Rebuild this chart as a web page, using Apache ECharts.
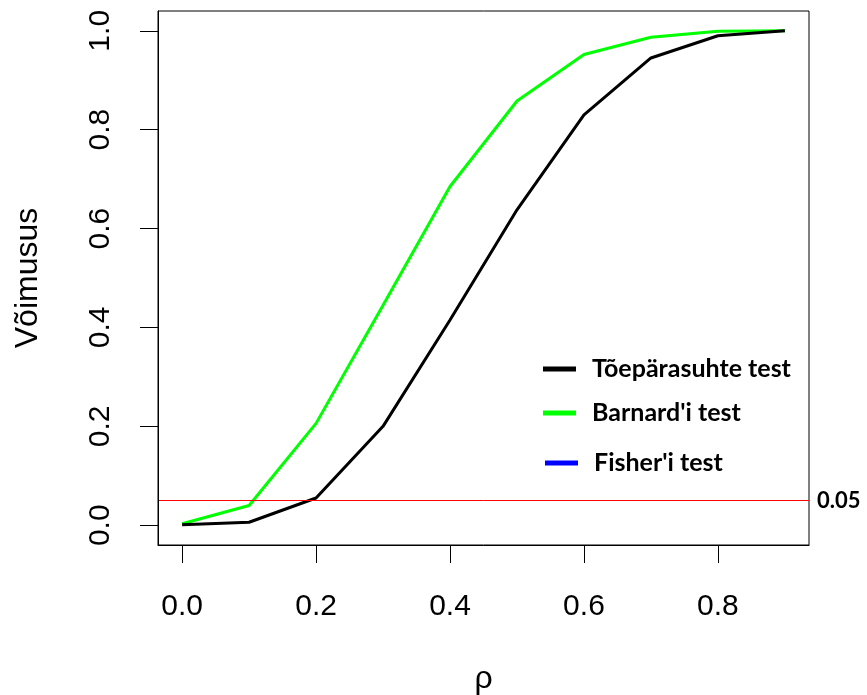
<!DOCTYPE html>
<html>
<head>
<meta charset="utf-8">
<script src="https://cdn.jsdelivr.net/npm/echarts@6/dist/echarts.min.js"></script>
<style>
  html, body { margin: 0; padding: 0; background: #ffffff; }
  #chart { width: 867px; height: 695px; background: #ffffff; }
</style>
</head>
<body>
<div id="chart"></div>
<script>
// Correlation values (rho) at which the tests' power was estimated
const rho = [0.0, 0.1, 0.2, 0.3, 0.4, 0.5, 0.6, 0.7, 0.8, 0.9];
// Estimated power of each test
const powerLikelihoodRatio = [0.001, 0.006, 0.055, 0.200, 0.415, 0.638, 0.830, 0.945, 0.990, 1.000];
const powerBarnard = [0.003, 0.040, 0.206, 0.445, 0.685, 0.858, 0.952, 0.987, 0.999, 1.000];
const powerFisher = [];
// Significance level reference line
const alphaLevel = 0.05;
// Axis ticks
const xTicks = [0.0, 0.2, 0.4, 0.6, 0.8];
const yTicks = [0.0, 0.2, 0.4, 0.6, 0.8, 1.0];

const seriesNames = ['Tõepärasuhte test', "Barnard'i test", "Fisher'i test"];
const seriesColors = ['#000000', '#00ff00', '#0000ff'];

const pairs = (xs, ys) => ys.map((y, i) => [xs[i], y]);

const axisFont = 'Liberation Sans, Arial, sans-serif';
const legendFont = 'Lato, "Open Sans", sans-serif';

function legendAt(name, left, top) {
  return {
    data: [name],
    orient: 'vertical',
    left: left,
    top: top,
    padding: 0,
    icon: 'rect',
    itemWidth: 33,
    itemHeight: 5,
    selectedMode: false,
    textStyle: {
      fontFamily: legendFont,
      fontWeight: 'bold',
      fontSize: 25,
      lineHeight: 26,
      color: '#000',
      padding: [0, 0, 0, 11]
    }
  };
}

const chart = echarts.init(document.getElementById('chart'), null, { renderer: 'canvas' });

chart.setOption({
  animation: false,
  grid: {
    left: 158,
    right: 58,
    top: 11,
    bottom: 150,
    containLabel: false,
    outerBoundsMode: 'none',
    show: true,
    borderColor: '#000',
    borderWidth: 1,
    backgroundColor: 'transparent'
  },
  legend: [
    legendAt(seriesNames[0], 543, 356),
    legendAt(seriesNames[1], 543, 400),
    legendAt(seriesNames[2], 545, 450)
  ],
  xAxis: {
    type: 'value',
    zlevel: 1,
    min: -0.036,
    max: 0.936,
    name: 'ρ',
    nameLocation: 'middle',
    nameGap: 118,
    nameTextStyle: { fontFamily: axisFont, fontSize: 32, color: '#000' },
    axisLine: { show: true, onZero: false, lineStyle: { color: '#000', width: 1 } },
    splitLine: { show: false },
    axisTick: {
      show: true,
      inside: false,
      length: 18,
      customValues: xTicks,
      lineStyle: { color: '#000', width: 1 }
    },
    axisLabel: {
      show: true,
      customValues: xTicks,
      margin: 47,
      fontFamily: axisFont,
      fontSize: 30,
      color: '#000',
      formatter: v => v.toFixed(1)
    }
  },
  yAxis: {
    type: 'value',
    zlevel: 1,
    min: -0.04,
    max: 1.04,
    name: 'Võimusus',
    nameLocation: 'middle',
    nameGap: 114,
    nameRotate: 90,
    nameTextStyle: { fontFamily: axisFont, fontSize: 32, color: '#000' },
    axisLine: { show: true, onZero: false, lineStyle: { color: '#000', width: 1 } },
    splitLine: { show: false },
    axisTick: {
      show: true,
      inside: false,
      length: 18,
      customValues: yTicks,
      lineStyle: { color: '#000', width: 1 }
    },
    axisLabel: {
      show: true,
      customValues: yTicks,
      rotate: 90,
      margin: 42,
      fontFamily: axisFont,
      fontSize: 30,
      color: '#000',
      formatter: v => v.toFixed(1)
    }
  },
  series: [
    {
      name: seriesNames[1],
      type: 'line',
      data: pairs(rho, powerBarnard),
      color: seriesColors[1],
      showSymbol: false,
      symbol: 'none',
      lineStyle: { color: seriesColors[1], width: 3 },
      z: 2
    },
    {
      name: seriesNames[2],
      type: 'line',
      data: powerFisher,
      color: seriesColors[2],
      showSymbol: false,
      symbol: 'none',
      lineStyle: { color: seriesColors[2], width: 3 },
      z: 2
    },
    {
      name: seriesNames[0],
      type: 'line',
      data: pairs(rho, powerLikelihoodRatio),
      color: seriesColors[0],
      showSymbol: false,
      symbol: 'none',
      lineStyle: { color: seriesColors[0], width: 3 },
      z: 3,
      markLine: {
        silent: true,
        symbol: ['none', 'none'],
        lineStyle: { color: '#ff0000', width: 1, type: 'solid' },
        label: {
          show: true,
          position: 'end',
          distance: 8,
          formatter: () => alphaLevel.toFixed(2),
          fontFamily: legendFont,
          fontWeight: 'bold',
          fontSize: 22,
          color: '#000'
        },
        data: [{ yAxis: alphaLevel }]
      }
    }
  ]
});
</script>
</body>
</html>
